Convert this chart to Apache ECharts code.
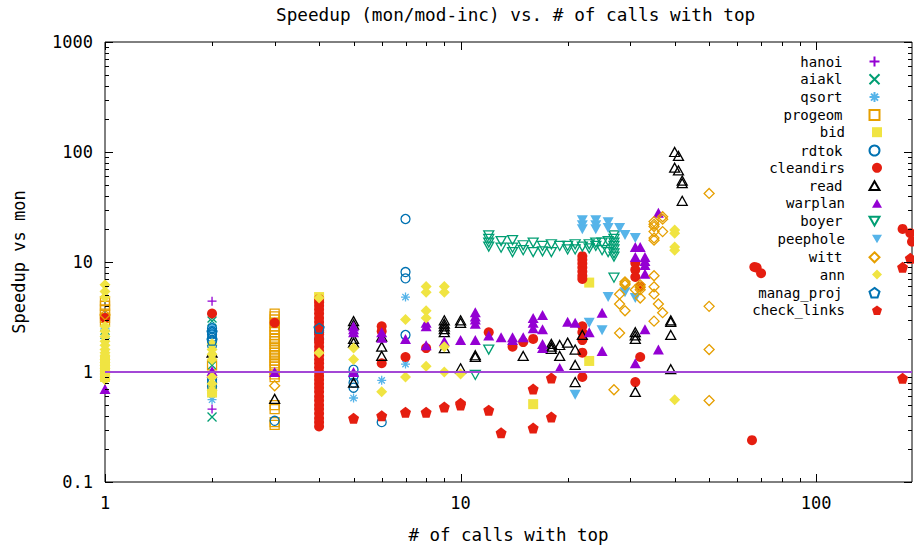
<!DOCTYPE html>
<html><head><meta charset="utf-8">
<script src="https://cdn.jsdelivr.net/npm/echarts@6/dist/echarts.min.js"></script>
<style>html,body{margin:0;padding:0;background:#fff}#c{width:914px;height:550px}</style>
</head><body><div id="c"></div>
<script>
// ---- data: [number of calls with top, speedup vs mon] ----
const hanoi = [[2,4.4],[2,0.46]];
const aiakl = [[1,2.4],[1,2.2],[2,3.1],[2,2.9],[2,1.15],[2,0.39]];
const qsort = [[1,2.5],[2,2.6],[2,2.4],[2,0.56],[4,2.4],[5,0.58],[6,0.84],[7,4.8],[7,1.18]];
const progeom = [[1,4.4],[1,4.0],[1,3.7],[1,3.4],[1,3.1],[1,2.9],[2,1.15],
  [3,3.4],[3,3.2],[3,3.0],[3,2.8],[3,2.6],[3,2.45],[3,2.3],[3,2.15],[3,2.0],[3,1.9],[3,1.8],[3,1.7],[3,1.6],
  [3,1.5],[3,1.42],[3,1.35],[3,1.27],[3,1.2],[3,1.12],[3,1.05],[3,0.95],[3,0.9],[3,0.5],[3,0.46],[3,0.35],[3,0.33]];
const bid = [[1,1.3],[1,1.15],[1,1.05],[1,0.95],[1,0.9],[2,0.7],[2,0.65],[4,4.8],[16,0.51],[23,6.5],[23,1.26]];
const rdtok = [[2,2.5],[2,2.35],[2,2.2],[2,2.05],[2,1.9],[2,1.75],[2,0.85],[2,0.8],[2,0.74],[3,0.36],[4,2.3],[4,2.0],
  [5,1.05],[5,0.92],[5,0.8],[5,0.72],[6,0.35],[7,24.6],[7,8.1],[7,7.1],[7,2.17]];
const cleandirs = [[1,3.1],[2,3.4],[3,2.8],
  [4,4.6],[4,4.3],[4,4.0],[4,3.7],[4,3.4],[4,3.1],[4,2.85],[4,2.6],[4,2.4],[4,2.2],[4,2.0],[4,1.85],[4,1.7],[4,1.55],
  [4,1.42],[4,1.3],[4,1.2],[4,1.1],[4,1.0],[4,0.92],[4,0.85],[4,0.78],[4,0.72],[4,0.66],[4,0.6],[4,0.55],[4,0.5],
  [4,0.46],[4,0.42],[4,0.38],[4,0.35],[4,0.32],
  [6,2.6],[6,2.35],[6,1.2],[7,1.37],[8,1.65],[12,2.3],[14,1.7],[15,1.87],[16,2.0],
  [22,11.3],[22,10.5],[22,9.7],[22,8.9],[22,8.2],[22,7.5],[22,7.0],[22,2.6],[22,2.3],[22,1.95],[22,1.5],[22,0.9],
  [31,9.8],[31,8.5],[31,7.3],[32,6.0],[32,1.37],[31,0.81],[66,0.24],[67,9.0],[68,8.9],[70,7.9],
  [175,20.0],[184,18.3],[186,15.3]];
const read = [[2,1.5],[3,0.57],[5,2.9],[5,2.7],[5,2.0],[5,1.85],[5,0.8],[6,2.1],[6,1.7],[6,1.4],
  [9,2.95],[9,2.75],[9,2.6],[9,2.45],[9,2.3],[9,1.65],[10,2.95],[10,2.8],[10,1.08],[11,1.42],[11,1.37],[15,1.4],
  [18,1.8],[18,1.7],[18,1.62],[19,1.76],[19,1.4],[20,1.85],[21,1.6],[21,1.16],[21,0.81],[22,2.17],
  [31,2.3],[31,2.15],[31,2.0],[31,0.66],[39,2.95],[39,2.85],[39,2.17],[39,1.06],
  [40,100],[40,72],[41,92],[41,68],[42,55],[42,52],[42,36]];
const warplan = [[1,0.7],[2,0.98],[2,1.02],[3,1.0],[5,2.6],[5,2.45],[5,2.3],[5,1.0],[6,2.05],[6,2.3],[7,2.0],
  [8,2.8],[8,2.6],[8,1.75],[9,1.9],[10,1.95],[11,3.5],[11,3.2],[11,3.0],[11,2.75],[11,1.95],[12,2.15],[13,2.07],
  [14,2.07],[14,1.95],[15,2.07],[16,3.1],[16,2.8],[16,2.5],[17,3.3],[17,2.45],[17,1.8],[17,1.65],[19,1.09],
  [20,2.86],[21,2.8],[23,2.3],[25,3.46],[25,1.55],[31,13.7],[31,11.1],[31,1.2],[32,13.7],
  [33,11.1],[33,10.2],[33,9.4],[33,7.8],[33,2.45],[36,28],[36,1.6]];
const boyer = [[11,0.94],[12,17.5],[12,16.2],[12,15.0],[12,13.8],[12,1.6],[13,15.5],[13,13.5],[14,15.8],[14,13.5],
  [14,12.3],[15,14.2],[15,12.8],[16,15],[16,12.3],[17,14],[17,12.5],[18,14.5],[18,12.3],[19,14],[20,14],[20,13],
  [21,14.5],[21,13],[22,13.8],[23,14.5],[23,13.3],[24,15],[24,14],[25,15],[25,12.8],[26,15.5],[26,12.3],
  [27,17.5],[27,16.2],[27,15],[27,14],[27,13],[27,12],[27,11.2],[27,7.2]];
const peephole = [[21,0.62],[22,24],[22,21.6],[22,19.8],[23,2.8],[24,24],[24,21.6],[24,19.8],[25,2.4],
  [26,23],[26,20.4],[26,4.8],[28,20.4],[29,17.6],[29,5.3],[31,16.5],[31,4.7]];
const witt = [[1,3.3],[3,0.75],[27,0.69],[28,5.1],[28,4.15],[28,2.26],[29,6.6],[29,6.2],[29,6.4],[29,3.6],[31,5.6],
  [32,6.2],[32,4.7],[32,5.6],[32,5.9],[35,23.3],[35,22],[35,21],[35,18.9],[35,15.8],[35,16.5],[35,7.5],[35,5.95],[35,5.1],[35,2.9],
  [36,4.15],[37,25.8],[37,24.5],[37,18.9],[37,3.46],[50,42],[50,3.95],[50,1.6],[50,0.55]];
const ann = [[1,6.2],[1,5.4],[1,4.8],[1,2.6],[1,2.35],[1,2.1],[1,1.9],[1,1.75],[1,1.6],
  [1,1.5],[1,1.4],[1,1.3],[1,1.22],[1,1.15],[1,1.08],[1,1.02],[1,0.96],[1,0.9],[1,0.85],
  [2,1.8],[2,1.6],[2,1.45],[2,1.3],[2,0.9],[2,0.78],[2,0.68],[4,4.7],[4,1.5],[5,1.65],[5,1.3],[6,0.66],
  [7,3.0],[7,0.9],[8,6.0],[8,5.3],[8,3.6],[8,3.1],[8,1.13],[9,6.0],[9,5.3],[9,1.7],[9,1.0],[10,0.96],
  [40,19.5],[40,18.3],[40,13.7],[40,12.8],[40,0.56]];
const manag_proj = [[2,2.3],[2,1.95],[4,2.5]];
const check_links = [[5,0.38],[6,0.40],[7,0.43],[8,0.43],[9,0.48],[10,0.52],[10,0.5],[12,0.45],[13,0.28],
  [16,0.7],[16,0.31],[18,0.88],[18,0.39],[175,8.95],[184,10.8],[175,0.876]];

const xTickLabels = [1, 10, 100];
const yTickLabels = [0.1, 1, 10, 100, 1000];
const unityLevel = 1;

// ---- presentation ----
const FONT = 'DejaVu Sans Mono';
const SYM = {
  plus: 'path://M5,0L5,10M0,5L10,5',
  cross: 'path://M0,0L10,10M0,10L10,0',
  star: 'path://M5,0L5,10M0,5L10,5M1.5,1.5L8.5,8.5M1.5,8.5L8.5,1.5',
  tri: 'path://M5,0L10,8.66L0,8.66Z',
  itri: 'path://M0,0L10,0L5,8.66Z',
  pent: 'path://M10,0L19.51,6.91L15.88,18.09L4.12,18.09L0.49,6.91Z'
};
const defs = [
  ['hanoi', hanoi, '#9400d3', SYM.plus, 9, false],
  ['aiakl', aiakl, '#009e73', SYM.cross, 9, false],
  ['qsort', qsort, '#56b4e9', SYM.star, 9, false],
  ['progeom', progeom, '#e69f00', 'rect', 9, false],
  ['bid', bid, '#f0e442', 'rect', 10, true],
  ['rdtok', rdtok, '#0072b2', 'circle', 9, false],
  ['cleandirs', cleandirs, '#e51e10', 'circle', 10, true],
  ['read', read, '#000000', SYM.tri, [10,9], false],
  ['warplan', warplan, '#9400d3', SYM.tri, [11,10], true],
  ['boyer', boyer, '#009e73', SYM.itri, [10,9], false],
  ['peephole', peephole, '#56b4e9', SYM.itri, [11,10], true],
  ['witt', witt, '#e69f00', 'diamond', 10, false],
  ['ann', ann, '#f0e442', 'diamond', 11, true],
  ['manag_proj', manag_proj, '#0072b2', SYM.pent, 10, false],
  ['check_links', check_links, '#e51e10', SYM.pent, 11, true]
];

const series = defs.map(([name, data, color, symbol, size, filled]) => ({
  type: 'scatter', name, data, symbol, symbolSize: size,
  itemStyle: filled ? {color: color, borderWidth: 0, opacity: 1}
                    : {color: 'none', borderColor: color, borderWidth: 1.3, opacity: 1},
  emphasis: {disabled: true},
  animation: false
}));

// y = 1 reference line
series.push({
  type: 'line', name: 'unity', data: [], silent: true,
  markLine: {silent: true, symbol: 'none', animation: false, z: 20,
    label: {show: false}, lineStyle: {color: '#a347d6', width: 2, type: 'solid'},
    data: [{yAxis: unityLevel}]}
});

// gnuplot-style ticks (major + log minor) on all four borders
const X_MIN = 1, X_MAX = 186, Y_MIN = 0.1, Y_MAX = 1000;
function isMajor(v){ const l = Math.log10(v); return Math.abs(l - Math.round(l)) < 1e-9; }
const xTicks = [], yTicks = [];
for (let d = 0; d <= 2; d++) for (let k = 1; k <= 9; k++) { const v = k * Math.pow(10, d); if (v >= X_MIN && v <= X_MAX) xTicks.push([v, 1]); }
for (let d = -1; d <= 3; d++) for (let k = 1; k <= 9; k++) { const v = +(k * Math.pow(10, d)).toPrecision(6); if (v >= Y_MIN && v <= Y_MAX) yTicks.push([1, v]); }

series.push({
  type: 'custom', name: 'xticks', data: xTicks, silent: true, clip: false, z: 10, animation: false,
  renderItem(params, api) {
    const v = api.value(0);
    const x = Math.round(api.coord([v, 1])[0]) + 0.5;
    const cs = params.coordSys; const len = isMajor(v) ? 8 : 4;
    const st = {stroke: '#000', lineWidth: 1};
    return {type: 'group', children: [
      {type: 'line', shape: {x1: x, y1: cs.y + cs.height, x2: x, y2: cs.y + cs.height - len}, style: st},
      {type: 'line', shape: {x1: x, y1: cs.y, x2: x, y2: cs.y + len}, style: st}
    ]};
  }
});
series.push({
  type: 'custom', name: 'yticks', data: yTicks, silent: true, clip: false, z: 10, animation: false,
  renderItem(params, api) {
    const v = api.value(1);
    const y = Math.round(api.coord([1, v])[1]) + 0.5;
    const cs = params.coordSys; const len = isMajor(v) ? 8 : 4;
    const st = {stroke: '#000', lineWidth: 1};
    return {type: 'group', children: [
      {type: 'line', shape: {x1: cs.x, y1: y, x2: cs.x + len, y2: y}, style: st},
      {type: 'line', shape: {x1: cs.x + cs.width, y1: y, x2: cs.x + cs.width - len, y2: y}, style: st}
    ]};
  }
});

// one legend per entry so the keys line up on the right like gnuplot
const legends = defs.map(([name], i) => ({
  data: [name], orient: 'vertical', align: 'right', right: 32, top: 54 + i * 17.8,
  itemWidth: 10, itemHeight: 10, padding: 0, selectedMode: false,
  textStyle: {fontFamily: FONT, fontSize: 14, color: '#000', padding: [0, 22, 0, 0]}
}));

const fmt = v => {
  const l = Math.log10(v);
  if (Math.abs(l - Math.round(l)) > 1e-6) return '';
  const r = Math.pow(10, Math.round(l));
  return (xTickLabels.includes(r) || yTickLabels.includes(r)) ? String(+r.toPrecision(3)) : '';
};

const option = {
  backgroundColor: '#fff',
  animation: false,
  title: {text: 'Speedup (mon/mod-inc) vs. # of calls with top', left: 271, top: 1,
    textStyle: {fontFamily: FONT, fontSize: 17.7, fontWeight: 'normal', color: '#000'}},
  legend: legends,
  grid: {left: 105, right: 2, top: 42, bottom: 68, show: true, borderColor: '#000', borderWidth: 1,
    backgroundColor: 'transparent'},
  xAxis: {type: 'log', logBase: 10, min: X_MIN, max: X_MAX,
    name: '# of calls with top', nameLocation: 'middle', nameGap: 44,
    nameTextStyle: {fontFamily: FONT, fontSize: 17.5, color: '#000'},
    axisLine: {show: false}, axisTick: {show: false}, splitLine: {show: false},
    axisLabel: {fontFamily: FONT, fontSize: 17, color: '#000', margin: 12, formatter: fmt, showMaxLabel: false}},
  yAxis: {type: 'log', logBase: 10, min: Y_MIN, max: Y_MAX,
    name: 'Speedup vs mon', nameLocation: 'middle', nameGap: 78, nameRotate: 90,
    nameTextStyle: {fontFamily: FONT, fontSize: 17, color: '#000'},
    axisLine: {show: false}, axisTick: {show: false}, splitLine: {show: false},
    axisLabel: {fontFamily: FONT, fontSize: 17, color: '#000', margin: 12, formatter: fmt}},
  series
};

const chart = echarts.init(document.getElementById('c'), null, {renderer: 'svg'});
chart.setOption(option);
</script>
</body></html>
